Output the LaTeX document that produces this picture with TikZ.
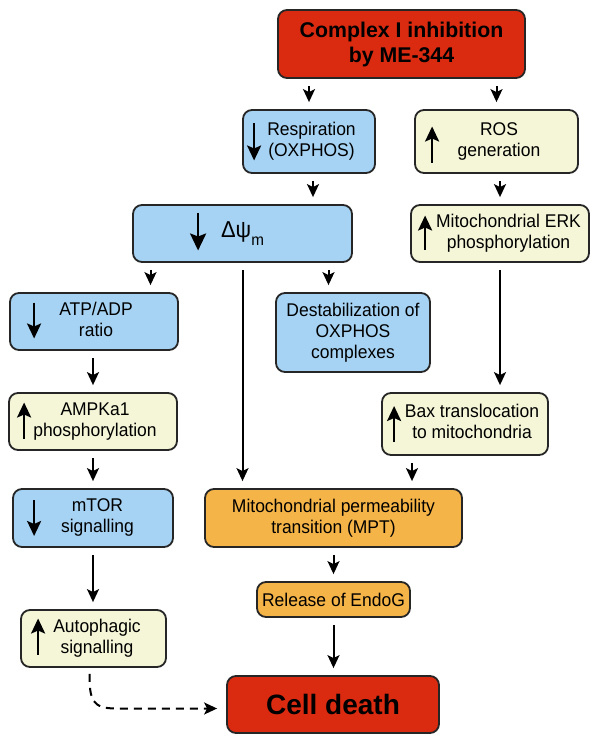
\documentclass[tikz,border=0pt]{standalone}
\usepackage{fontspec}
\setmainfont{Liberation Sans}
\newfontfamily\narrowsans{Liberation Sans}[FakeStretch=0.95]
\usetikzlibrary{arrows.meta}

\definecolor{cellred}{RGB}{218,43,17}
\definecolor{cellblue}{RGB}{166,211,243}
\definecolor{cellcream}{RGB}{245,245,215}
\definecolor{cellorange}{RGB}{245,180,72}

% text block pushed right, clear of the up/down mark
\newcommand{\padtext}[2]{\begin{tabular}{@{\hspace{#1}}c@{}}#2\end{tabular}}

\begin{document}
\begin{tikzpicture}[x=1pt,y=-1pt,
    box/.style={draw=black!85,line width=1.8pt,rounded corners=9pt,inner sep=0pt,
        font=\narrowsans\fontsize{18.4}{21}\selectfont},
    redbox/.style={box,fill=cellred},
    downbox/.style={box,fill=cellblue},
    upbox/.style={box,fill=cellcream},
    mptbox/.style={box,fill=cellorange},
    arr/.style={line width=2pt,-{Stealth[length=13pt,width=12pt,inset=3pt]},
        shorten <=7pt,shorten >=7pt},
    dasharr/.style={line width=2pt,-{Stealth[length=13pt,width=12pt,inset=3pt]},
        dash pattern=on 8pt off 6pt},
    glyph/.style={line width=2.4pt,-{Stealth[length=15pt,width=14pt,inset=3pt]}}]

    \fill[white] (0,0) rectangle (600,741);

    % top of the cascade
    \node[redbox,align=center,font=\bfseries\fontsize{21.3}{25}\selectfont,
        minimum width=247pt,minimum height=68pt] (top) at (401.5,44)
        {Complex I inhibition\\by ME-344};
    \node[downbox,minimum width=132pt,minimum height=63pt] (resp) at (309,141.5)
        {\padtext{5pt}{Respiration\\(OXPHOS)}};
    \node[upbox,minimum width=163pt,minimum height=63pt] (ros) at (496.5,141.5)
        {\padtext{5pt}{ROS\\generation}};
    \node[downbox,minimum width=219pt,minimum height=57pt] (dpsi) at (242.5,233.5)
        {\fontsize{23}{23}\selectfont Δψ\raisebox{-8pt}{\fontsize{16}{16}\selectfont m}};
    \node[upbox,minimum width=178pt,minimum height=57pt] (erk) at (500,233.5)
        {\padtext{17pt}{Mitochondrial ERK\\phosphorylation}};

    % middle
    \node[downbox,minimum width=168pt,minimum height=57pt] (atp) at (94,321.5)
        {\padtext{4pt}{ATP/ADP\\ratio}};
    \node[downbox,align=center,minimum width=154pt,minimum height=79pt] (destab) at (353,332.5)
        {Destabilization of\\OXPHOS\\complexes};
    \node[upbox,minimum width=168pt,minimum height=57pt] (ampk) at (93,421.5)
        {\padtext{4pt}{AMPKa1\\phosphorylation}};
    \node[upbox,minimum width=166pt,minimum height=62pt] (bax) at (465,424)
        {\padtext{14pt}{Bax translocation\\to mitochondria}};
    \node[downbox,minimum width=160pt,minimum height=58pt] (mtor) at (93,518)
        {\padtext{9pt}{mTOR\\signalling}};
    \node[mptbox,align=center,minimum width=257pt,minimum height=58pt] (mpt) at (333.5,518)
        {Mitochondrial permeability\\transition (MPT)};

    % bottom
    \node[mptbox,minimum width=153pt,minimum height=35pt] (endog) at (333.5,599.5)
        {Release of EndoG};
    \node[upbox,minimum width=145pt,minimum height=57pt] (auto) at (93.5,638.5)
        {\padtext{7pt}{Autophagic\\signalling}};
    \node[redbox,font=\bfseries\fontsize{28}{30}\selectfont,
        minimum width=212pt,minimum height=57pt] (death) at (333,704.5) {Cell death};

    % up / down marks inside the boxes
    \draw[glyph] ([shift={(12,-18)}]resp.west) -- ++(0,37);
    \draw[glyph] ([shift={(18,21)}]ros.west) -- ++(0,-36);
    \draw[glyph,-{Stealth[length=17pt,width=16pt,inset=3pt]}] ([shift={(66,-21)}]dpsi.west) -- ++(0,38);
    \draw[glyph] ([shift={(15,16)}]erk.west) -- ++(0,-34);
    \draw[glyph] ([shift={(25,-19)}]atp.west) -- ++(0,36);
    \draw[glyph] ([shift={(16,17)}]ampk.west) -- ++(0,-36);
    \draw[glyph] ([shift={(13,18)}]bax.west) -- ++(0,-36);
    \draw[glyph] ([shift={(22,-18)}]mtor.west) -- ++(0,36);
    \draw[glyph] ([shift={(18,16)}]auto.west) -- ++(0,-36);

    % connectors
    \draw[arr] (top.south -| resp.north) -- (resp.north);
    \draw[arr] (top.south -| ros.north) -- (ros.north);
    \draw[arr] ([xshift=4pt]resp.south) -- ([xshift=4pt]resp.south |- dpsi.north);
    \draw[arr] (ros.south -| erk.north) -- (erk.north);
    \draw[arr] ([xshift=-92pt]dpsi.south) -- ([xshift=-92pt]dpsi.south |- atp.north);
    \draw[arr] ([xshift=86pt]dpsi.south) -- ([xshift=86pt]dpsi.south |- destab.north);
    \draw[arr] (dpsi.south) -- (dpsi.south |- mpt.north);
    \draw[arr] (erk.south) -- (erk.south |- bax.north);
    \draw[arr] (atp.south -| ampk.north) -- (ampk.north);
    \draw[arr] (ampk.south) -- (mtor.north);
    \draw[arr] ([xshift=-53pt]bax.south) -- ([xshift=-53pt]bax.south |- mpt.north);
    \draw[arr] (mtor.south) -- (mtor.south |- auto.north);
    \draw[arr] (mpt.south) -- (endog.north);
    \draw[arr] (endog.south) -- (endog.south |- death.north);
    \draw[dasharr] ([shift={(-4,6)}]auto.south) .. controls +(0,26) and +(-24,0)
        .. ([shift={(-110,4)}]death.west) -- ([shift={(-9,4)}]death.west);
\end{tikzpicture}
\end{document}
